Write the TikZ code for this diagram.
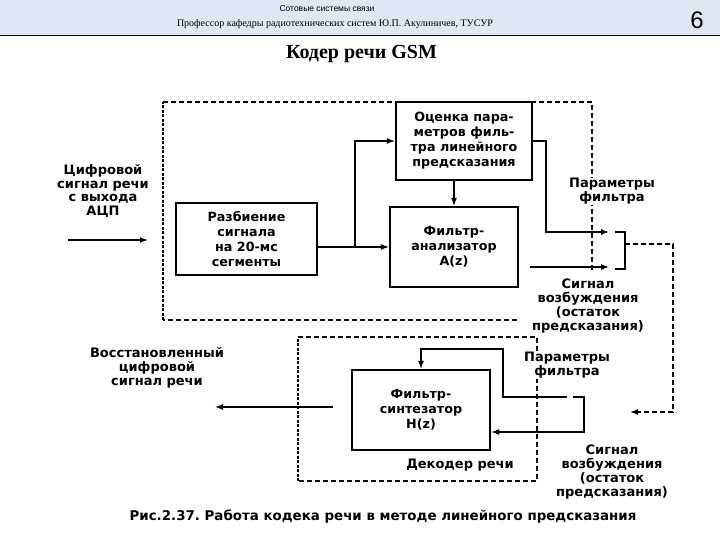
\documentclass[tikz,border=0pt]{standalone}
\usepackage{fontspec}
\setmainfont{DejaVu Sans}
\newfontfamily\serifrm{Liberation Serif}
\newfontfamily\headsans{Liberation Sans}
\usetikzlibrary{arrows.meta,calc}
\definecolor{headbg}{HTML}{DDE8F4}
\frenchspacing
\tikzset{
  blk/.style={draw, line width=2.2pt, minimum width=#1, inner sep=0pt, align=center,
    font=\fontsize{12.7}{15}\selectfont\bfseries},
  lbl/.style={align=center, inner sep=0pt, font=\fontsize{13}{13.8}\selectfont\bfseries},
  con/.style={line width=1.3pt, -{Latex[length=8pt,width=6pt]}},
  lin/.style={line width=1.3pt},
  dbox/.style={line width=1.4pt, dash pattern=on 5pt off 3pt},
  dside/.style={line width=1.8pt, dash pattern=on 3pt off 1.5pt},
  darr/.style={line width=1.4pt, dash pattern=on 5pt off 3pt, -{Latex[length=8pt,width=6pt]}}
}
\begin{document}
\begin{tikzpicture}[x=1pt,y=-1pt]
\useasboundingbox (0,0) rectangle (720,540);
\fill[white] (0,0) rectangle (720,540);
\fill[headbg] (0,0) rectangle (720,35);
\draw[line width=1.2pt] (0,35.5) -- (720,35.5);
\node[font=\headsans\fontsize{8.5}{9}\selectfont] (h1) at (327,9) {Сотовые системы связи};
\node[font=\serifrm\fontsize{10}{11}\selectfont] (h2) at (335,24) {Профессор кафедры радиотехнических систем Ю.П. Акулиничев, ТУСУР};
\node[font=\headsans\fontsize{24}{26}\selectfont] (pg) at (697,20) {6};
\node[font=\serifrm\bfseries\fontsize{20}{22}\selectfont] (title) at (361.5,54) {Кодер речи GSM};

% upper dashed frame
\draw[dbox] (517,320) -- (163,320);
\draw[dbox] (163,102) -- (592,102) -- (592,272);
\draw[dside] (163,320) -- (163,102);
% lower dashed frame
\draw[dbox] (298,337) -- (537,337) -- (537,481) -- (298,481);
\draw[dside] (298,481) -- (298,337);

% blocks
\node[blk=141pt, minimum height=72pt] (split) at (246.5,239) {Разбиение\\сигнала\\на 20-мс\\сегменты};
\node[blk=136pt, minimum height=78pt] (est) at (464,141) {Оценка пара-\\метров филь-\\тра линейного\\предсказания};
\node[blk=128pt, minimum height=80pt] (ana) at (454,247) {Фильтр-\\анализатор\\A(z)};
\node[blk=138pt, minimum height=80pt] (syn) at (421,410) {Фильтр-\\синтезатор\\H(z)};

% labels
\node[lbl] (lin) at (103,191) {Цифровой\\сигнал речи\\с выхода\\АЦП};
\node[lbl, fill=white, inner sep=1pt] (lp1) at (612,191.5) {Параметры\\фильтра};
\node[lbl] (ls1) at (588,306) {Сигнал\\возбуждения\\(остаток\\предсказания)};
\node[lbl, fill=white, inner sep=1pt] (lp2) at (567,365) {Параметры\\фильтра};
\node[lbl] (ls2) at (612,472) {Сигнал\\возбуждения\\(остаток\\предсказания)};
\node[lbl] (ldec) at (460,465) {Декодер речи};
\node[lbl] (lout) at (157,368) {Восстановленный\\цифровой\\сигнал речи};
\node[lbl, font=\fontsize{13.4}{14}\selectfont\bfseries] (cap) at (383,517) {Рис.2.37. Работа кодека речи в методе линейного предсказания};

% coder connectors
\coordinate (in0) at (68,240);
\coordinate (in1) at (148,240);
\draw[con] (in0) -- (in1);
\coordinate (j1) at (355,247);
\draw[lin] (split.east |- j1) -- (j1);
\draw[con] (j1) -- (j1 -| ana.west);
\draw[con] (j1) |- (est.west);
\draw[con] (est.south -| ana.north) -- (ana.north);
\coordinate (p1) at (609,232);
\draw[con] (est.east) -- ++(13,0) |- (p1);
\coordinate (s1) at (530,267);
\coordinate (s2) at (609,267);
\draw[con] (s1) -- (s2);
\draw[lin] (615,232) -- (625,232) -- (625,269) -- (615,269);
\coordinate (b1) at (625,244);
\coordinate (d1) at (630,412);
\draw[darr] (b1) -- (673,244) -- (673,412) -- (d1);

% decoder connectors
\coordinate (q1) at (567,397);
\draw[con] (q1) -| ++(-64,-48) -| (syn.north);
\draw[lin] (573,397) -- (584,397) -- (584,432) -- (570,432);
\coordinate (q2) at (570,432);
\draw[con] (q2) -- (q2 -| syn.east);
\coordinate (o0) at (333,407);
\coordinate (o1) at (215,407);
\draw[con] (o0) -- (o1);
\end{tikzpicture}
\end{document}
